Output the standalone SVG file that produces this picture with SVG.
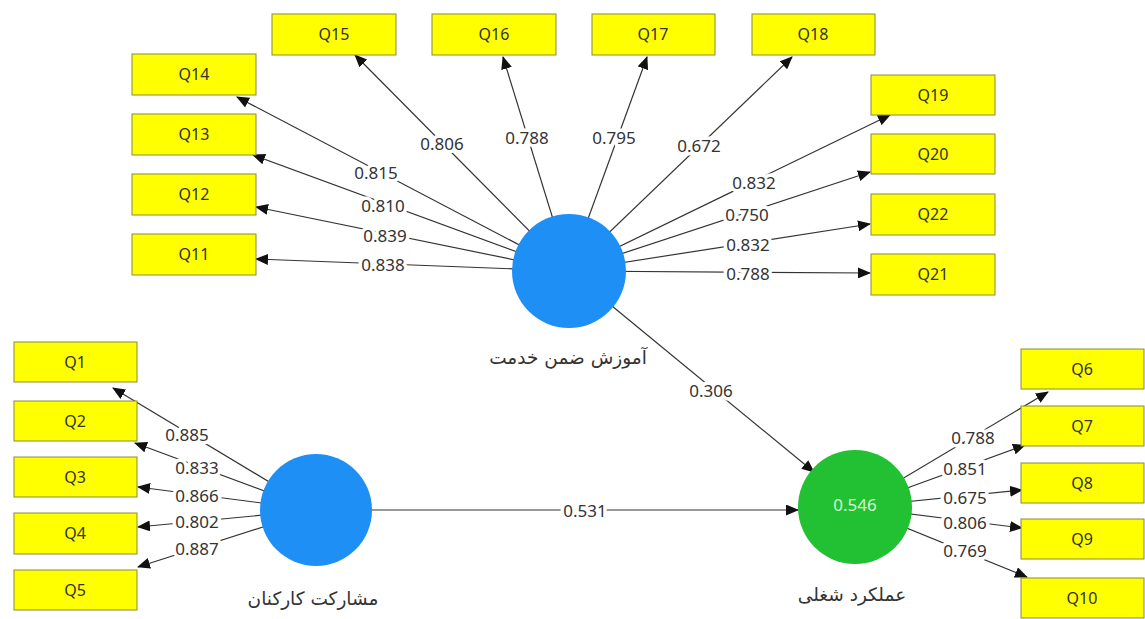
<svg xmlns="http://www.w3.org/2000/svg" width="1145" height="619" viewBox="0 0 1145 619">
<defs>
<marker id="ah" markerUnits="userSpaceOnUse" markerWidth="13" markerHeight="11" refX="12" refY="5.5" orient="auto">
<path d="M0,0 L13,5.5 L0,11 z" fill="#111"/>
</marker>
<style>
.box{fill:#ffff00;stroke:#8a8a40;stroke-width:1}
.bt{font-family:"Noto Sans","Open Sans",sans-serif;font-size:16px;fill:#333;text-anchor:middle;dominant-baseline:central}
.ln{stroke:#333;stroke-width:1.2;fill:none;marker-end:url(#ah)}
.lb{font-family:"Noto Sans","Open Sans",sans-serif;font-size:17px;fill:#333;text-anchor:middle;dominant-baseline:central;stroke:#fff;stroke-width:7;stroke-linejoin:round;paint-order:stroke}
.fa{font-family:"DejaVu Sans","Noto Sans",sans-serif;font-size:18.5px;fill:#333;text-anchor:middle}
.blue{fill:#1e8ff5}
.green{fill:#22c033}
</style>
</defs>
<rect width="1145" height="619" fill="#fff"/>
<g id="connectors">
<line class="ln" x1="569" y1="271" x2="355" y2="55"/>
<line class="ln" x1="569" y1="271" x2="503" y2="57"/>
<line class="ln" x1="569" y1="271" x2="647" y2="57"/>
<line class="ln" x1="569" y1="271" x2="792" y2="57"/>
<line class="ln" x1="569" y1="271" x2="890" y2="115"/>
<line class="ln" x1="569" y1="271" x2="870" y2="172"/>
<line class="ln" x1="569" y1="271" x2="870" y2="224"/>
<line class="ln" x1="569" y1="271" x2="870" y2="273"/>
<line class="ln" x1="569" y1="271" x2="237" y2="97"/>
<line class="ln" x1="569" y1="271" x2="253" y2="155"/>
<line class="ln" x1="569" y1="271" x2="256" y2="207"/>
<line class="ln" x1="569" y1="271" x2="256" y2="259"/>
<line class="ln" x1="316" y1="510" x2="113" y2="388"/>
<line class="ln" x1="316" y1="510" x2="135" y2="443"/>
<line class="ln" x1="316" y1="510" x2="138" y2="487"/>
<line class="ln" x1="316" y1="510" x2="138" y2="527"/>
<line class="ln" x1="316" y1="510" x2="138" y2="567"/>
<line class="ln" x1="855" y1="507" x2="1048" y2="392"/>
<line class="ln" x1="855" y1="507" x2="1025" y2="445"/>
<line class="ln" x1="855" y1="507" x2="1022" y2="490"/>
<line class="ln" x1="855" y1="507" x2="1022" y2="528"/>
<line class="ln" x1="855" y1="507" x2="1027" y2="577"/>
<line class="ln" x1="372" y1="510" x2="798" y2="510"/>
<line class="ln" x1="612" y1="306" x2="814" y2="472"/>
<text class="lb" x="442" y="143">0.806</text>
<text class="lb" x="527" y="137">0.788</text>
<text class="lb" x="614" y="137">0.795</text>
<text class="lb" x="699" y="145">0.672</text>
<text class="lb" x="754" y="182">0.832</text>
<text class="lb" x="747" y="214">0.750</text>
<text class="lb" x="748" y="244">0.832</text>
<text class="lb" x="748" y="273">0.788</text>
<text class="lb" x="376" y="172">0.815</text>
<text class="lb" x="383" y="205">0.810</text>
<text class="lb" x="385" y="235">0.839</text>
<text class="lb" x="383" y="264">0.838</text>
<text class="lb" x="187" y="434">0.885</text>
<text class="lb" x="197" y="467">0.833</text>
<text class="lb" x="197" y="495">0.866</text>
<text class="lb" x="197" y="521">0.802</text>
<text class="lb" x="197" y="548">0.887</text>
<text class="lb" x="973" y="437">0.788</text>
<text class="lb" x="965" y="468">0.851</text>
<text class="lb" x="965" y="497">0.675</text>
<text class="lb" x="965" y="522">0.806</text>
<text class="lb" x="965" y="550">0.769</text>
<text class="lb" x="585" y="510">0.531</text>
<text class="lb" x="711" y="390">0.306</text>
</g>
<g id="training"><circle class="blue" cx="569" cy="271" r="57"/><text class="fa" x="568" y="364">آموزش ضمن خدمت</text></g>
<g id="participation"><circle class="blue" cx="316" cy="510" r="56"/><text class="fa" x="313" y="605">مشارکت کارکنان</text></g>
<g id="performance"><circle class="green" cx="855" cy="507" r="57"/><text x="855" y="504" font-family="Noto Sans, sans-serif" font-size="17" fill="#d8f5d0" text-anchor="middle" dominant-baseline="central">0.546</text><text class="fa" x="852" y="601">عملکرد شغلی</text></g>
<g id="Q15"><rect class="box" x="272" y="14" width="124" height="41"/><text class="bt" x="334" y="34">Q15</text></g>
<g id="Q16"><rect class="box" x="432" y="14" width="124" height="41"/><text class="bt" x="494" y="34">Q16</text></g>
<g id="Q17"><rect class="box" x="592" y="14" width="123" height="41"/><text class="bt" x="653" y="34">Q17</text></g>
<g id="Q18"><rect class="box" x="752" y="14" width="123" height="41"/><text class="bt" x="813" y="34">Q18</text></g>
<g id="Q14"><rect class="box" x="132" y="54" width="124" height="41"/><text class="bt" x="194" y="74">Q14</text></g>
<g id="Q13"><rect class="box" x="132" y="114" width="124" height="41"/><text class="bt" x="194" y="134">Q13</text></g>
<g id="Q12"><rect class="box" x="132" y="174" width="124" height="41"/><text class="bt" x="194" y="194">Q12</text></g>
<g id="Q11"><rect class="box" x="132" y="234" width="124" height="41"/><text class="bt" x="194" y="254">Q11</text></g>
<g id="Q19"><rect class="box" x="871" y="75" width="124" height="40"/><text class="bt" x="933" y="95">Q19</text></g>
<g id="Q20"><rect class="box" x="871" y="134" width="124" height="40"/><text class="bt" x="933" y="154">Q20</text></g>
<g id="Q22"><rect class="box" x="871" y="194" width="124" height="41"/><text class="bt" x="933" y="214">Q22</text></g>
<g id="Q21"><rect class="box" x="871" y="254" width="124" height="41"/><text class="bt" x="933" y="274">Q21</text></g>
<g id="Q1"><rect class="box" x="14" y="342" width="123" height="40"/><text class="bt" x="75" y="362">Q1</text></g>
<g id="Q2"><rect class="box" x="14" y="401" width="123" height="40"/><text class="bt" x="75" y="421">Q2</text></g>
<g id="Q3"><rect class="box" x="14" y="457" width="123" height="40"/><text class="bt" x="75" y="477">Q3</text></g>
<g id="Q4"><rect class="box" x="14" y="513" width="123" height="41"/><text class="bt" x="75" y="533">Q4</text></g>
<g id="Q5"><rect class="box" x="14" y="570" width="123" height="40"/><text class="bt" x="75" y="590">Q5</text></g>
<g id="Q6"><rect class="box" x="1021" y="349" width="123" height="40"/><text class="bt" x="1082" y="369">Q6</text></g>
<g id="Q7"><rect class="box" x="1021" y="406" width="123" height="40"/><text class="bt" x="1082" y="426">Q7</text></g>
<g id="Q8"><rect class="box" x="1021" y="463" width="123" height="40"/><text class="bt" x="1082" y="483">Q8</text></g>
<g id="Q9"><rect class="box" x="1021" y="519" width="123" height="40"/><text class="bt" x="1082" y="539">Q9</text></g>
<g id="Q10"><rect class="box" x="1021" y="578" width="123" height="40"/><text class="bt" x="1082" y="598">Q10</text></g>
</svg>
